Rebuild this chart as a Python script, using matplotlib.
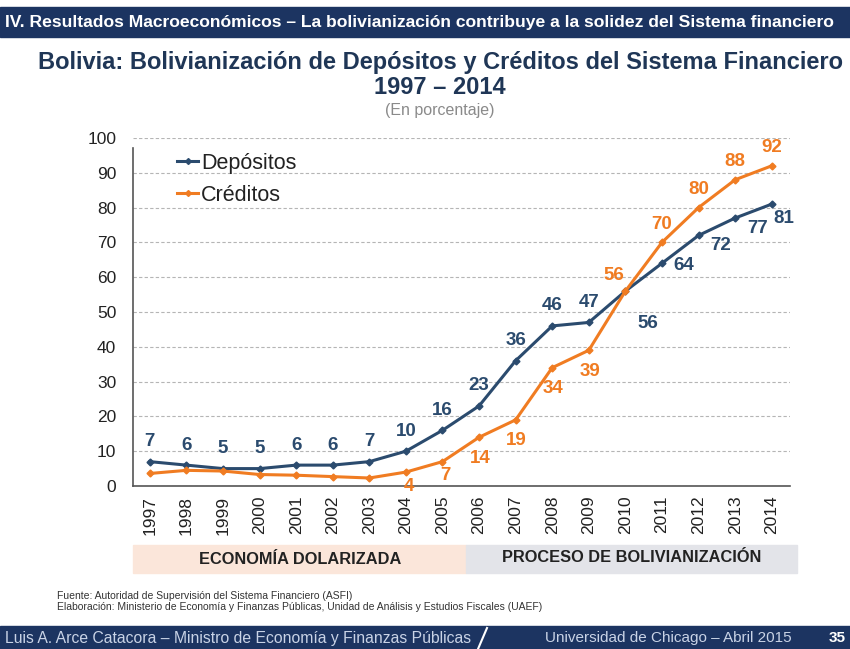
import matplotlib
matplotlib.use("Agg")
import matplotlib.pyplot as plt
from matplotlib.patches import Rectangle
from matplotlib.lines import Line2D

plt.rcParams['font.family'] = ['Liberation Sans', 'DejaVu Sans']

# Data (percent)
years = list(range(1997, 2015))
depositos = [7, 6, 5, 5, 6, 6, 7, 10, 16, 23, 36, 46, 47, 56, 64, 72, 77, 81]
creditos = [3.6, 4.5, 4.3, 3.3, 3.1, 2.7, 2.3, 4, 7, 14, 19, 34, 39, 56, 70, 80, 88, 92]
# years whose crédito value is written on the chart
creditos_labeled = list(range(2004, 2015))

header = "IV. Resultados Macroeconómicos – La bolivianización contribuye a la solidez del Sistema financiero"
title = "Bolivia: Bolivianización de Depósitos y Créditos del Sistema Financiero"
subtitle = "1997 – 2014"
units = "(En porcentaje)"
band_left = "ECONOMÍA DOLARIZADA"
band_right = "PROCESO DE BOLIVIANIZACIÓN"
source_lines = ["Fuente: Autoridad de Supervisión del Sistema Financiero (ASFI)",
                "Elaboración: Ministerio de Economía y Finanzas Públicas, Unidad de Análisis y Estudios Fiscales (UAEF)"]
footer_left = "Luis A. Arce Catacora – Ministro de Economía y Finanzas Públicas"
footer_right = "Universidad de Chicago – Abril 2015"
page = "35"

BLUE = "#2b4b6e"
ORANGE = "#f07c22"
NAVY = "#1c3461"

W, H = 850, 649
fig = plt.figure(figsize=(W / 100, H / 100), dpi=100)


def fx(px):
    return px / W


def fy(py):
    return 1 - py / H


# header and footer bars
fig.patches.append(Rectangle((0, fy(37)), 1, fy(7) - fy(37), transform=fig.transFigure,
                             color=NAVY, zorder=0))
fig.patches.append(Rectangle((0, 0), 1, fy(626), transform=fig.transFigure,
                             color=NAVY, zorder=0))
fig.text(fx(5), fy(22), header, color="white", fontsize=12.6, fontweight="bold",
         va="center", ha="left")

fig.text(fx(440), fy(62), title, color="#1f3656", fontsize=17, fontweight="bold",
         ha="center", va="center")
fig.text(fx(440), fy(87), subtitle, color="#1f3656", fontsize=17, fontweight="bold",
         ha="center", va="center")
fig.text(fx(440), fy(111), units, color="#8a8a8a", fontsize=11.5, ha="center", va="center")

# plot area
ax = fig.add_axes([fx(133), fy(486), fx(790) - fx(133), fy(138) - fy(486)])
ax.set_xlim(1996.54, 2014.5)
ax.set_ylim(0, 100)
ax.plot(years, depositos, color=BLUE, lw=2.2, marker="D", ms=3.5, label="Depósitos", zorder=3)
ax.plot(years, creditos, color=ORANGE, lw=2.2, marker="D", ms=3.5, label="Créditos", zorder=3)

ax.set_yticks(range(0, 101, 10))
ax.set_xticks(years)
ax.set_xticklabels([str(y) for y in years], rotation=90)
ax.tick_params(axis="both", length=0, labelsize=12.5, colors="#222222")
ax.tick_params(axis="y", pad=12)
ax.tick_params(axis="x", pad=7)
ax.yaxis.grid(True, ls=(0, (3, 2)), color="#b5b5b5", lw=0.8)
ax.set_axisbelow(True)
for s in ("top", "right"):
    ax.spines[s].set_visible(False)
for s in ("left", "bottom"):
    ax.spines[s].set_color("#555555")
    ax.spines[s].set_linewidth(1.2)
ax.spines["left"].set_bounds(0, 97)

lab = dict(fontsize=13.5, fontweight="bold", ha="center", va="center",
           textcoords="offset pixels")
for y, v in zip(years, depositos):
    if y < 2010:
        off = (0, 20)
    elif y == 2014:
        off = (12, -14)
    elif y in (2012, 2013):
        off = (22, -10)
    elif y == 2011:
        off = (22, -2)
    else:
        off = (22, -32)
    ax.annotate(f"{v:.0f}", (y, v), xytext=off, color=BLUE, **lab)

for y, v in zip(years, creditos):
    if y not in creditos_labeled:
        continue
    if y in (2004, 2005):
        off = (3, -14)
    elif y < 2010:
        off = (1, -21)
    elif y == 2010:
        off = (-12, 16)
    else:
        off = (0, 18)
    ax.annotate(f"{v:.0f}", (y, v), xytext=off, color=ORANGE, **lab)

handles = [Line2D([], [], color=BLUE, lw=2.2, marker="D", ms=3),
           Line2D([], [], color=ORANGE, lw=2.2, marker="D", ms=3)]
fig.legend(handles, ["Depósitos", "Créditos"], loc="upper left",
           bbox_to_anchor=(fx(166), fy(142)), frameon=False, fontsize=15.5,
           handlelength=1.0, handletextpad=0.12, labelspacing=0.5, borderpad=0,
           labelcolor="#222222")

# period bands under the axis
fig.patches.append(Rectangle((fx(133), fy(573)), fx(466) - fx(133), fy(545) - fy(573),
                             transform=fig.transFigure, color="#fbe6da", zorder=0))
fig.patches.append(Rectangle((fx(466), fy(573)), fx(797) - fx(466), fy(545) - fy(573),
                             transform=fig.transFigure, color="#e3e4e9", zorder=0))
fig.text(fx(300), fy(560), band_left, fontsize=11.8, fontweight="bold", color="#222222",
         ha="center", va="center")
fig.text(fx(632), fy(558), band_right, fontsize=11.8, fontweight="bold", color="#222222",
         ha="center", va="center")

fig.text(fx(57), fy(596), source_lines[0], fontsize=7.5, color="#333333", va="center")
fig.text(fx(57), fy(607), source_lines[1], fontsize=7.5, color="#333333", va="center")

# footer
fig.text(fx(5), fy(638), footer_left, fontsize=11.3, color="#c9d3e6", va="center")
fig.add_artist(Line2D([fx(487), fx(478)], [fy(628), fy(649)], transform=fig.transFigure,
                      color="white", lw=1.5))
fig.text(fx(545), fy(638), footer_right, fontsize=11, color="#c9d3e6", va="center")
fig.text(fx(829), fy(638), page, fontsize=11, fontweight="bold", color="white",
         va="center")

fig.savefig("out.png", dpi=100)
